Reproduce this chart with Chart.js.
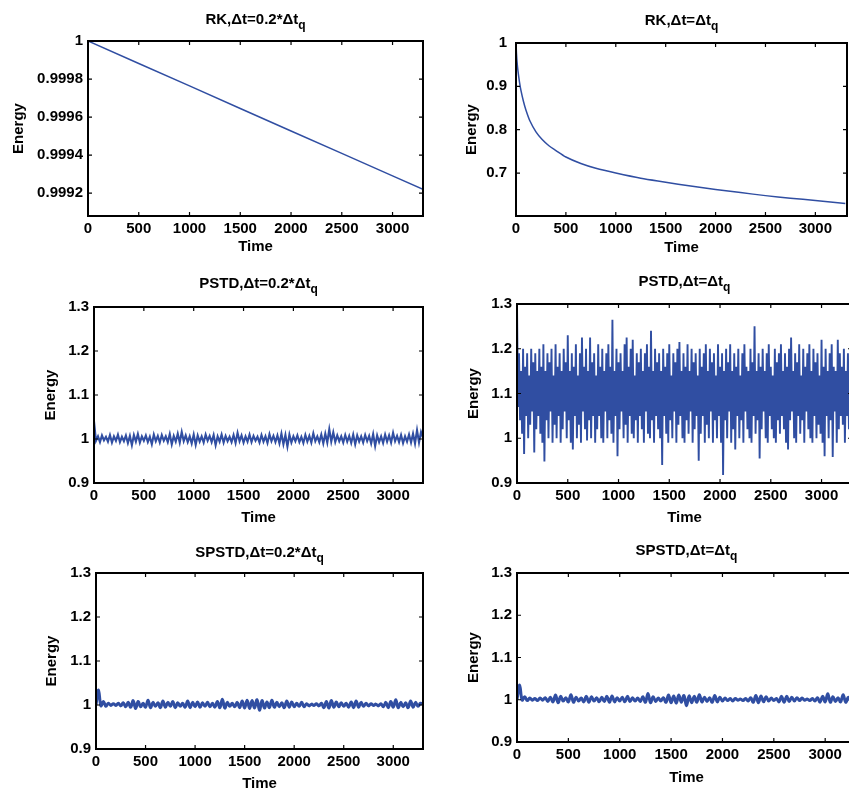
<!DOCTYPE html>
<html>
<head>
<meta charset="utf-8">
<title>Energy vs Time</title>
<script src="https://cdn.jsdelivr.net/npm/chart.js@4.4.0/dist/chart.umd.min.js"></script>
<style>
html, body { margin: 0; padding: 0; background: #fff; }
body { width: 849px; height: 793px; overflow: hidden; position: relative; }
.cell { position: absolute; }
</style>
</head>
<body>
<div class="cell"><canvas id="rkSmall"></canvas></div>
<div class="cell"><canvas id="rkLarge"></canvas></div>
<div class="cell"><canvas id="pstdSmall"></canvas></div>
<div class="cell"><canvas id="pstdLarge"></canvas></div>
<div class="cell"><canvas id="spstdSmall"></canvas></div>
<div class="cell"><canvas id="spstdLarge"></canvas></div>
<script>
// ---- data ----
var timeTicks = [0, 500, 1000, 1500, 2000, 2500, 3000];
var rkSmallTicks = [0.9992, 0.9994, 0.9996, 0.9998, 1];
var rkLargeTicks = [0.7, 0.8, 0.9, 1];
var energyTicks = [0.9, 1, 1.1, 1.2, 1.3];

// RK, dt = 0.2*dtq
var rkSmallTime = [0, 500, 1000, 1500, 2000, 2500, 3000, 3300];
var rkSmallEnergy = [1, 0.999882, 0.999764, 0.999645, 0.999527, 0.999409, 0.999291, 0.99922];

// RK, dt = dtq
var rkLargeTime = [0, 5, 10, 20, 35, 50, 75, 100, 140, 200, 260, 330, 400, 500, 650, 800, 1000, 1250, 1500, 1750, 2000, 2250, 2500, 2750, 3000, 3300];
var rkLargeEnergy = [1.0, 0.975, 0.958, 0.935, 0.91, 0.89, 0.865, 0.845, 0.82, 0.795, 0.778, 0.763, 0.752, 0.737, 0.722, 0.711, 0.700, 0.688, 0.679, 0.670, 0.662, 0.655, 0.648, 0.642, 0.637, 0.630];

// PSTD, dt = 0.2*dtq  (one sample every 20 time units)
var pstdSmallStep = 20;
var pstdSmallEnergy = [1.04,
  0.996,1.006, 0.993,1.008, 0.997,1.005, 0.994,1.009, 0.992,1.006, 0.996,1.010, 0.993,1.005, 0.995,1.008, 0.991,1.007, 0.986,1.009,
  0.994,1.011, 0.992,1.006, 0.996,1.008, 0.993,1.005, 0.988,1.010, 0.995,1.007, 0.992,1.009, 0.996,1.006, 0.993,1.011, 0.988,1.007,
  0.994,1.012, 0.992,1.016, 0.995,1.008, 0.993,1.006, 0.990,1.010, 0.987,1.008, 0.994,1.006, 0.992,1.010, 0.996,1.007, 0.993,1.009,
  0.986,1.006, 0.994,1.010, 0.992,1.007, 0.995,1.005, 0.993,1.009, 0.991,1.014, 0.995,1.008, 0.992,1.006, 0.994,1.010, 0.993,1.007,
  0.996,1.005, 0.992,1.009, 0.994,1.006, 0.991,1.011, 0.995,1.007, 0.993,1.008, 0.990,1.012, 0.988,1.009, 0.983,1.010, 0.992,1.006,
  0.995,1.008, 0.993,1.005, 0.991,1.009, 0.994,1.007, 0.992,1.013, 0.995,1.006, 0.993,1.010, 0.990,1.012, 0.992,1.022, 0.994,1.015,
  0.993,1.008, 0.995,1.006, 0.992,1.009, 0.994,1.007, 0.991,1.010, 0.988,1.008, 0.994,1.006, 0.992,1.009, 0.995,1.007, 0.990,1.011,
  0.984,1.008, 0.993,1.006, 0.991,1.010, 0.994,1.008, 0.992,1.014, 0.995,1.007, 0.993,1.009, 0.991,1.006, 0.994,1.010, 0.992,1.012,
  0.990,1.020, 0.992,1.016,
  1.003];

// PSTD, dt = dtq  (one sample every 10 time units)
var pstdLargeStep = 10;
var pstdLargeEnergy = [1.30,
  1.07,1.19, 1.04,1.15, 1.01,1.20, 0.965,1.16, 1.05,1.19, 1.00,1.14, 1.03,1.20, 1.06,1.17, 0.968,1.19, 1.02,1.15,
  1.05,1.20, 1.01,1.16, 0.99,1.21, 0.948,1.15, 1.04,1.19, 1.00,1.17, 1.06,1.20, 0.99,1.14, 1.03,1.21, 1.00,1.16,
  1.05,1.19, 0.99,1.15, 1.02,1.20, 1.06,1.17, 1.00,1.23, 1.04,1.15, 0.99,1.19, 0.975,1.16, 1.05,1.21, 1.00,1.14,
  1.03,1.19, 0.99,1.225, 1.06,1.16, 1.02,1.20, 0.995,1.15, 1.04,1.225, 1.00,1.17, 1.05,1.19, 0.99,1.14, 1.02,1.21,
  1.05,1.16, 1.00,1.20, 0.99,1.15, 1.06,1.19, 1.00,1.21, 1.04,1.16, 1.01,1.265, 0.99,1.15, 1.05,1.20, 0.96,1.17,
  1.02,1.19, 1.06,1.15, 1.00,1.21, 1.03,1.225, 0.99,1.16, 1.05,1.20, 1.01,1.22, 1.00,1.14, 1.04,1.19, 0.99,1.17,
  1.05,1.20, 1.02,1.15, 0.99,1.19, 1.06,1.21, 1.01,1.16, 1.00,1.24, 1.04,1.15, 0.99,1.20, 1.05,1.17, 1.02,1.19,
  1.00,1.15, 0.94,1.20, 1.05,1.16, 1.01,1.19, 0.99,1.21, 1.04,1.14, 1.00,1.19, 1.06,1.17, 0.99,1.20, 1.03,1.215,
  1.05,1.15, 1.00,1.19, 0.99,1.16, 1.04,1.21, 1.01,1.15, 1.06,1.20, 0.99,1.17, 1.02,1.19, 1.05,1.14, 0.95,1.20,
  1.01,1.16, 1.05,1.19, 0.99,1.21, 1.03,1.15, 1.00,1.20, 1.06,1.17, 0.99,1.19, 1.04,1.14, 1.00,1.21, 1.05,1.16,
  0.99,1.19, 0.918,1.15, 1.04,1.20, 1.00,1.17, 1.06,1.21, 0.99,1.15, 1.02,1.19, 0.975,1.16, 1.05,1.20, 1.00,1.14,
  1.04,1.19, 0.99,1.21, 1.06,1.16, 1.02,1.15, 1.00,1.20, 0.99,1.17, 1.05,1.25, 1.01,1.15, 1.04,1.19, 0.955,1.16,
  1.02,1.20, 1.06,1.15, 1.00,1.19, 0.99,1.21, 1.05,1.16, 1.02,1.14, 1.00,1.20, 0.99,1.17, 1.04,1.19, 1.01,1.21,
  1.05,1.15, 1.02,1.19, 0.99,1.16, 0.975,1.20, 1.04,1.225, 1.06,1.15, 1.00,1.19, 0.99,1.17, 1.05,1.21, 1.01,1.14,
  1.04,1.20, 0.99,1.16, 1.06,1.19, 1.02,1.21, 1.00,1.15, 0.99,1.20, 1.05,1.17, 1.00,1.19, 1.03,1.14, 1.01,1.22,
  0.99,1.16, 0.96,1.20, 1.05,1.15, 1.00,1.19, 1.04,1.21, 0.958,1.16, 1.06,1.15, 0.99,1.22, 1.02,1.19, 1.05,1.16,
  1.03,1.20, 0.99,1.15, 1.05,1.19, 1.02,1.17, 1.00,1.20];

// SPSTD (one sample every 25 time units)
var spstdStep = 25;
var spstdSmallEnergy = [
  1.000, 1.034, 0.998, 1.008, 0.997, 1.004, 0.999, 1.003, 0.999, 1.004,
  0.998, 1.005, 0.996, 1.006, 0.995, 1.010, 0.992, 1.008, 0.996, 1.004,
  0.995, 1.011, 0.994, 1.006, 0.997, 1.005, 0.994, 1.009, 0.995, 1.006,
  0.997, 1.008, 0.994, 1.005, 0.997, 1.004, 0.995, 1.009, 0.994, 1.006,
  0.996, 1.007, 0.995, 1.005, 0.997, 1.006, 0.996, 1.004, 0.995, 1.008,
  0.994, 1.013, 0.993, 1.006, 0.997, 1.004, 0.996, 1.006, 0.994, 1.009,
  0.993, 1.011, 0.992, 1.010, 0.993, 1.012, 0.988, 1.010, 0.993, 1.007,
  0.994, 1.011, 0.995, 1.006, 0.996, 1.005, 0.994, 1.009, 0.995, 1.007,
  0.996, 1.004, 0.997, 1.006, 0.996, 1.003, 0.998, 1.002, 0.999, 1.003,
  0.998, 1.004, 0.994, 1.008, 0.993, 1.010, 0.995, 1.007, 0.996, 1.005,
  0.997, 1.004, 0.995, 1.007, 0.994, 1.009, 0.995, 1.006, 0.997, 1.004,
  0.998, 1.003, 0.999, 1.002, 0.998, 1.003, 0.996, 1.006, 0.994, 1.008,
  0.995, 1.012, 0.994, 1.006, 0.996, 1.005, 0.994, 1.009, 0.995, 1.006,
  0.997, 1.004, 1.002];
var spstdLargeEnergy = [
  1.000, 1.035, 0.999, 1.007, 0.998, 1.004, 0.999, 1.003, 0.998, 1.004,
  0.999, 1.005, 0.996, 1.006, 0.995, 1.011, 0.993, 1.008, 0.997, 1.005,
  0.995, 1.012, 0.994, 1.006, 0.997, 1.004, 0.995, 1.008, 0.994, 1.007,
  0.997, 1.005, 0.995, 1.006, 0.996, 1.008, 0.994, 1.009, 0.995, 1.005,
  0.997, 1.006, 0.995, 1.008, 0.996, 1.005, 0.997, 1.004, 0.996, 1.007,
  0.994, 1.015, 0.993, 1.007, 0.996, 1.004, 0.997, 1.005, 0.994, 1.011,
  0.993, 1.009, 0.992, 1.011, 0.994, 1.010, 0.986, 1.009, 0.993, 1.008,
  0.994, 1.012, 0.995, 1.006, 0.996, 1.005, 0.994, 1.010, 0.995, 1.006,
  0.997, 1.004, 0.998, 1.003, 0.997, 1.003, 0.999, 1.002, 0.998, 1.003,
  0.997, 1.005, 0.994, 1.010, 0.993, 1.009, 0.995, 1.007, 0.997, 1.004,
  0.998, 1.003, 0.995, 1.008, 0.994, 1.008, 0.996, 1.006, 0.997, 1.005,
  0.998, 1.004, 0.999, 1.002, 0.998, 1.003, 0.997, 1.005, 0.994, 1.008,
  0.995, 1.014, 0.994, 1.007, 0.996, 1.005, 0.995, 1.012, 0.994, 1.006,
  0.996, 1.004, 0.999];

// ---- drawing ----
var lineColor = '#304ea2';
var fontFamily = "'Liberation Sans', Arial, Helvetica, sans-serif";
var tickFont = { family: fontFamily, size: 15, weight: 'bold' };
var labelFont = { family: fontFamily, size: 15, weight: 'bold' };

function toPoints(times, values) {
    return values.map(function (v, i) { return { x: times[i], y: v }; });
}

function sampled(step, values) {
    return values.map(function (v, i) { return { x: i * step, y: v }; });
}

function fmt(value) {
    return String(+value.toFixed(4));
}

// matlab style box with inward ticks, plus title with subscript
var matlabAxes = {
    id: 'matlabAxes',
    afterDatasetsDraw: function (chart) {
        var ctx = chart.ctx, a = chart.chartArea;
        var xs = chart.scales.x, ys = chart.scales.y;
        ctx.save();
        ctx.strokeStyle = '#000';
        ctx.lineWidth = 1.2;
        ctx.beginPath();
        xs.ticks.forEach(function (t) {
            var px = xs.getPixelForValue(t.value);
            ctx.moveTo(px, a.bottom); ctx.lineTo(px, a.bottom - 4);
            ctx.moveTo(px, a.top); ctx.lineTo(px, a.top + 4);
        });
        ys.ticks.forEach(function (t) {
            var py = ys.getPixelForValue(t.value);
            ctx.moveTo(a.left, py); ctx.lineTo(a.left + 4, py);
            ctx.moveTo(a.right, py); ctx.lineTo(a.right - 4, py);
        });
        ctx.stroke();
        ctx.lineWidth = 2;
        ctx.strokeRect(a.left, a.top, a.right - a.left, a.bottom - a.top);
        ctx.restore();
    },
    afterDraw: function (chart, args, opts) {
        var ctx = chart.ctx, a = chart.chartArea;
        ctx.save();
        ctx.fillStyle = '#000';
        ctx.textBaseline = 'alphabetic';
        ctx.textAlign = 'left';
        ctx.font = 'bold 15px ' + fontFamily;
        var w1 = ctx.measureText(opts.text).width;
        ctx.font = 'bold 12px ' + fontFamily;
        var w2 = ctx.measureText(opts.sub).width;
        var x0 = (a.left + a.right) / 2 - (w1 + w2) / 2;
        ctx.font = 'bold 15px ' + fontFamily;
        ctx.fillText(opts.text, x0, opts.baseline);
        ctx.font = 'bold 12px ' + fontFamily;
        ctx.fillText(opts.sub, x0 + w1, opts.baseline + 5);
        ctx.restore();
    }
};

var panels = [
    { id: 'rkSmall', cell: { x: 0, y: 0, w: 430, h: 262 }, box: { l: 88, t: 41, r: 423, b: 216 },
      title: 'RK,\u0394t=0.2*\u0394t', titleBase: 24, yMin: 0.99908, yMax: 1, yTicks: rkSmallTicks, xMax: 3300,
      points: toPoints(rkSmallTime, rkSmallEnergy), lineWidth: 1.5, tension: 0, yPad: 5, yTitlePad: 9.8, xTitlePad: 5.7 },
    { id: 'rkLarge', cell: { x: 430, y: 0, w: 450, h: 262 }, box: { l: 516, t: 43, r: 847, b: 216 },
      title: 'RK,\u0394t=\u0394t', titleBase: 25, yMin: 0.601, yMax: 1, yTicks: rkLargeTicks, xMax: 3317,
      points: toPoints(rkLargeTime, rkLargeEnergy), lineWidth: 1.5, tension: 0.3, yPad: 9, yTitlePad: 33.2, xTitlePad: 5.2 },
    { id: 'pstdSmall', cell: { x: 0, y: 262, w: 430, h: 268 }, box: { l: 94, t: 307, r: 423, b: 483 },
      title: 'PSTD,\u0394t=0.2*\u0394t', titleBase: 288, yMin: 0.9, yMax: 1.3, yTicks: energyTicks, xMax: 3300,
      points: sampled(pstdSmallStep, pstdSmallEnergy), lineWidth: 2.1, tension: 0, yPad: 5, yTitlePad: 41.5, xTitlePad: 3.2 },
    { id: 'pstdLarge', cell: { x: 430, y: 262, w: 450, h: 268 }, box: { l: 517, t: 304, r: 852, b: 483 },
      title: 'PSTD,\u0394t=\u0394t', titleBase: 286, yMin: 0.9, yMax: 1.3, yTicks: energyTicks, xMax: 3300,
      points: sampled(pstdLargeStep, pstdLargeEnergy), lineWidth: 1.9, tension: 0, yPad: 5, yTitlePad: 34.8, xTitlePad: 3 },
    { id: 'spstdSmall', cell: { x: 0, y: 530, w: 430, h: 263 }, box: { l: 96, t: 573, r: 423, b: 749 },
      title: 'SPSTD,\u0394t=0.2*\u0394t', titleBase: 557, yMin: 0.9, yMax: 1.3, yTicks: energyTicks, xMax: 3300,
      points: sampled(spstdStep, spstdSmallEnergy), lineWidth: 3, tension: 0.4, yPad: 5, yTitlePad: 42.5, xTitlePad: 0.2 },
    { id: 'spstdLarge', cell: { x: 430, y: 530, w: 450, h: 263 }, box: { l: 517, t: 573, r: 856, b: 742 },
      title: 'SPSTD,\u0394t=\u0394t', titleBase: 555, yMin: 0.9, yMax: 1.3, yTicks: energyTicks, xMax: 3300,
      points: sampled(spstdStep, spstdLargeEnergy), lineWidth: 3, tension: 0.4, yPad: 5, yTitlePad: 34.8, xTitlePad: 6 }
];

function makePanel(p) {
    var canvas = document.getElementById(p.id);
    var holder = canvas.parentNode;
    holder.style.left = p.cell.x + 'px';
    holder.style.top = p.cell.y + 'px';
    canvas.width = p.cell.w;
    canvas.height = p.cell.h;

    new Chart(canvas.getContext('2d'), {
        type: 'line',
        data: {
            datasets: [{
                data: p.points,
                borderColor: lineColor,
                borderWidth: p.lineWidth,
                pointRadius: 0,
                tension: p.tension,
                fill: false
            }]
        },
        options: {
            responsive: false,
            animation: false,
            devicePixelRatio: 1,
            events: [],
            layout: {
                padding: { left: 0, top: p.box.t - p.cell.y, right: p.cell.x + p.cell.w - p.box.r, bottom: 0 }
            },
            plugins: {
                legend: { display: false },
                tooltip: { enabled: false },
                matlabAxes: { text: p.title, sub: 'q', baseline: p.titleBase - p.cell.y }
            },
            scales: {
                x: {
                    type: 'linear',
                    min: 0,
                    max: p.xMax,
                    afterBuildTicks: function (s) { s.ticks = timeTicks.map(function (v) { return { value: v }; }); },
                    afterFit: function (s) { s.height = p.cell.y + p.cell.h - p.box.b; },
                    grid: { display: false, drawTicks: false },
                    border: { display: false },
                    ticks: { padding: 4, font: tickFont, color: '#000', maxRotation: 0, autoSkip: false, callback: fmt },
                    title: { display: true, text: 'Time', font: labelFont, color: '#000', padding: { top: 0, bottom: p.xTitlePad } }
                },
                y: {
                    type: 'linear',
                    min: p.yMin,
                    max: p.yMax,
                    afterBuildTicks: function (s) { s.ticks = p.yTicks.map(function (v) { return { value: v }; }); },
                    afterFit: function (s) { s.width = p.box.l - p.cell.x; },
                    grid: { display: false, drawTicks: false },
                    border: { display: false },
                    ticks: { padding: p.yPad, font: tickFont, color: '#000', autoSkip: false, callback: fmt },
                    title: { display: true, text: 'Energy', font: labelFont, color: '#000', padding: { top: p.yTitlePad, bottom: 0 } }
                }
            }
        },
        plugins: [matlabAxes]
    });
}

document.addEventListener('DOMContentLoaded', function () {
    panels.forEach(makePanel);
});
</script>
</body>
</html>
